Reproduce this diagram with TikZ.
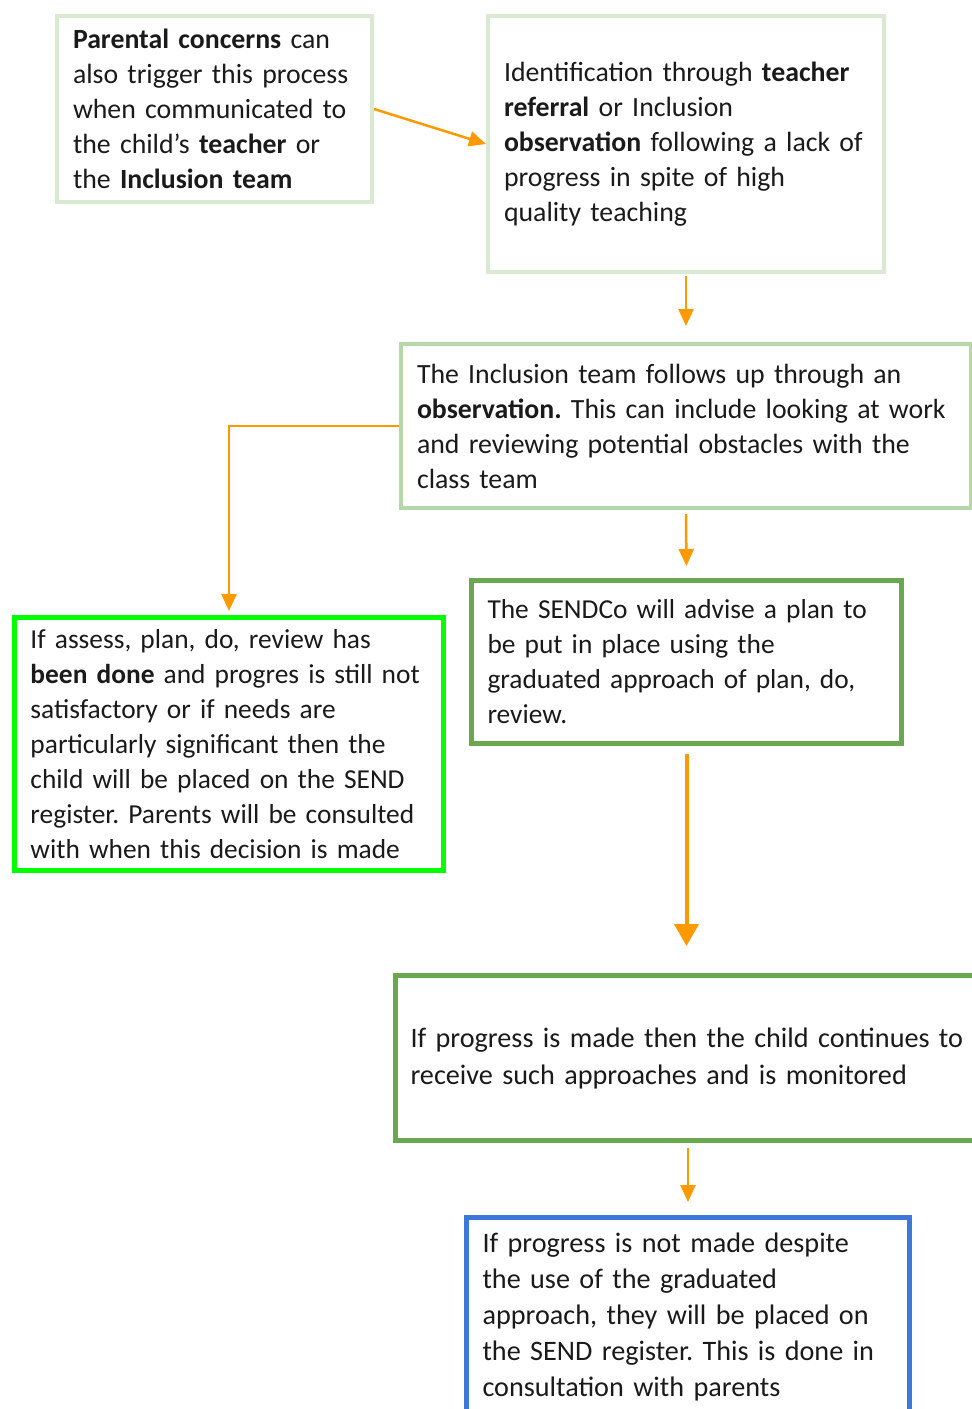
\documentclass[tikz,border=0pt]{standalone}
\usepackage{fontspec}
\setmainfont{Carlito}
\usetikzlibrary{arrows.meta}
\definecolor{lightg}{HTML}{D9EAD3}
\definecolor{midg}{HTML}{B6D7A8}
\definecolor{darkg}{HTML}{6AA84F}
\definecolor{brightg}{HTML}{00FF00}
\definecolor{blueb}{HTML}{3C78D8}
\definecolor{orng}{HTML}{FF9900}
\definecolor{txt}{HTML}{1A1A1A}
\frenchspacing
\begin{document}
\begin{tikzpicture}[x=1pt,y=-1pt,
  box/.style={draw, rectangle, inner xsep=16pt, inner ysep=0pt, align=left, text=txt,
    font=\fontsize{27.8}{35}\selectfont},
  arr/.style={draw=orng, line width=2.5pt, -{Triangle[width=15pt,length=17pt]}, color=orng}]
\useasboundingbox (0,0) rectangle (972,1409);
\clip (0,0) rectangle (972,1409);
\fill[white] (0,0) rectangle (972,1409);

\node[box, draw=lightg, line width=4pt, minimum width=315pt, minimum height=186pt, text width=283pt] (b1) at (214.5,109)
 {\textbf{Parental concerns} can\\also trigger this process\\when communicated to\\the child’s \textbf{teacher} or\\the \textbf{Inclusion team}};

\node[box, draw=lightg, line width=4pt, minimum width=396pt, minimum height=256pt, text width=364pt] (b2) at (686,144)
 {Identification through \textbf{teacher}\\\textbf{referral} or Inclusion\\\textbf{observation} following a lack of\\progress in spite of high\\quality teaching};

\node[box, draw=midg, line width=4pt, minimum width=570pt, minimum height=164pt, text width=538pt] (b3) at (686,426)
 {The Inclusion team follows up through an\\\textbf{observation.} This can include looking at work\\and reviewing potential obstacles with the\\class team};

\node[box, draw=brightg, line width=5pt, minimum width=429pt, minimum height=253pt, text width=397pt, inner xsep=15pt,
  font=\fontsize{27.4}{35}\selectfont] (b4) at (229,744)
 {If assess, plan, do, review has\\\textbf{been done} and progres is still not\\satisfactory or if needs are\\particularly significant then the\\child will be placed on the SEND\\register. Parents will be consulted\\with when this decision is made};

\node[box, draw=darkg, line width=5pt, minimum width=430pt, minimum height=163pt, text width=398pt, inner xsep=15pt,
  font=\fontsize{27.4}{35}\selectfont] (b5) at (686.5,662)
 {The SENDCo will advise a plan to\\be put in place using the\\graduated approach of plan, do,\\review.};

\node[box, draw=darkg, line width=5pt, minimum width=600pt, minimum height=165pt, text width=570pt, inner xsep=15pt,
  font=\fontsize{28.2}{37}\selectfont] (b6) at (695.5,1058)
 {If progress is made then the child continues to\\receive such approaches and is monitored};

\node[box, draw=blueb, line width=5pt, minimum width=443pt, minimum height=199pt, text width=411pt,
  font=\fontsize{28.2}{36}\selectfont] (b7) at (688,1317)
 {If progress is not made despite\\the use of the graduated\\approach, they will be placed on\\the SEND register. This is done in\\consultation with parents};

\draw[arr] (b1.east) -- (b2.west);
\draw[arr, shorten <=2pt, shorten >=16pt] (b2.south) -- (b3.north);
\draw[arr, shorten >=4pt] (b3.west) -| (b4.north);
\draw[arr, shorten <=4pt, shorten >=12pt] (b3.south) -- (b5.north);
\draw[arr, line width=4pt, -{Triangle[width=24pt,length=22pt]}, shorten <=8pt, shorten >=27pt] (b5.south) -- (b5.south |- b6.north);
\draw[arr, shorten <=5pt, shorten >=13pt] (b6.south -| b7.north) -- (b7.north);
\end{tikzpicture}
\end{document}
